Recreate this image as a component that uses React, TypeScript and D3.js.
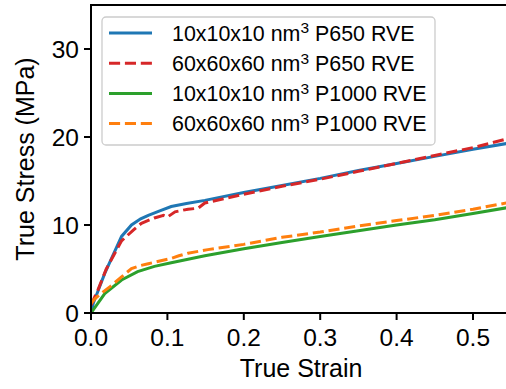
import React from 'react';
import * as d3 from 'd3';

// curves (strain, stress in MPa)
const blueStrain = [0, 0.003, 0.018, 0.04, 0.053, 0.065, 0.075, 0.09, 0.105, 0.125, 0.149, 0.2, 0.25, 0.3, 0.35, 0.4, 0.45, 0.5, 0.55];
const blueStress = [0, 1.1, 4.5, 8.7, 10.0, 10.7, 11.1, 11.6, 12.1, 12.45, 12.8, 13.7, 14.5, 15.3, 16.2, 17.0, 17.8, 18.6, 19.35];

const redStrain = [0, 0.009, 0.02, 0.04, 0.055, 0.066, 0.083, 0.095, 0.1, 0.11, 0.127, 0.14, 0.149, 0.2, 0.25, 0.3, 0.35, 0.4, 0.45, 0.5, 0.55];
const redStress = [0.9, 2.6, 5.0, 8.2, 9.4, 10.2, 10.8, 11.1, 10.9, 11.5, 11.8, 11.9, 12.5, 13.5, 14.4, 15.2, 16.1, 17.0, 17.9, 18.8, 19.9];

const greenStrain = [0, 0.005, 0.018, 0.04, 0.061, 0.083, 0.105, 0.149, 0.2, 0.25, 0.3, 0.35, 0.4, 0.45, 0.5, 0.55];
const greenStress = [0, 0.6, 2.2, 3.75, 4.7, 5.3, 5.7, 6.5, 7.3, 8.0, 8.7, 9.35, 10.0, 10.6, 11.3, 12.05];

const orangeStrain = [0, 0.005, 0.013, 0.025, 0.04, 0.053, 0.065, 0.075, 0.09, 0.105, 0.115, 0.127, 0.153, 0.2, 0.25, 0.3, 0.35, 0.4, 0.45, 0.5, 0.55];
const orangeStress = [1.1, 1.6, 2.2, 3.0, 4.1, 5.05, 5.4, 5.6, 5.9, 6.2, 6.5, 6.8, 7.2, 7.8, 8.6, 9.2, 9.9, 10.5, 11.1, 11.8, 12.6];

const legendSizes = ['10x10x10', '60x60x60', '10x10x10', '60x60x60'];
const legendGrades = ['P650', 'P650', 'P1000', 'P1000'];

const xTicks = [0, 0.1, 0.2, 0.3, 0.4, 0.5];
const yTicks = [0, 10, 20, 30];

const width = 506;
const height = 389;
const font = '"Liberation Sans", Arial, sans-serif';

export default function App() {
  const x = d3.scaleLinear().domain([0, 0.55]).range([91, 91 + 0.55 * 764]);
  const y = d3.scaleLinear().domain([0, 35]).range([313, 5]);

  const line = d3.line<[number, number]>()
    .x(d => x(d[0]))
    .y(d => y(d[1]));

  const series = [
    { strain: blueStrain, stress: blueStress, color: '#1f77b4', dash: null },
    { strain: redStrain, stress: redStress, color: '#d62728', dash: '11.1 4.8' },
    { strain: greenStrain, stress: greenStress, color: '#2ca02c', dash: null },
    { strain: orangeStrain, stress: orangeStress, color: '#ff7f0e', dash: '11.1 4.8' },
  ];

  const [x0, x1] = x.range();
  const [y0, y1] = y.range();

  return (
    <svg width={width} height={height} style={{ position: 'absolute', left: 0, top: 0 }} fontFamily={font}>
      <rect width={width} height={height} fill="#fff" />
      <defs>
        <clipPath id="plot">
          <rect x={x0} y={y1} width={x1 - x0} height={y0 - y1} />
        </clipPath>
      </defs>

      <g clipPath="url(#plot)">
        {series.map((s, i) => (
          <path
            key={i}
            d={line(s.strain.map((v, j) => [v, s.stress[j]] as [number, number])) || ''}
            fill="none"
            stroke={s.color}
            strokeWidth={3}
            strokeDasharray={s.dash || undefined}
          />
        ))}
      </g>

      {/* spines */}
      <line x1={x0} x2={x0} y1={y0} y2={y1} stroke="#000" strokeWidth={2} strokeLinecap="square" />
      <line x1={x0} x2={x1} y1={y0} y2={y0} stroke="#000" strokeWidth={2} strokeLinecap="square" />
      <line x1={x0} x2={x1} y1={y1} y2={y1} stroke="#000" strokeWidth={2} strokeLinecap="square" />
      <line x1={x1} x2={x1} y1={y0} y2={y1} stroke="#000" strokeWidth={2} />

      {/* x axis */}
      {xTicks.map(t => (
        <g key={t} transform={`translate(${x(t)},${y0})`}>
          <line y2={7} stroke="#000" strokeWidth={2} />
          <text y={33} textAnchor="middle" fontSize={24.5}>{t.toFixed(1)}</text>
        </g>
      ))}
      <text x={(x0 + x1) / 2} y={377} textAnchor="middle" fontSize={25}>True Strain</text>

      {/* y axis */}
      {yTicks.map(t => (
        <g key={t} transform={`translate(${x0},${y(t)})`}>
          <line x2={-7} stroke="#000" strokeWidth={2} />
          <text x={-12} y={8.8} textAnchor="end" fontSize={24.5}>{t}</text>
        </g>
      ))}
      <text transform={`translate(34,${(y0 + y1) / 2}) rotate(-90)`} textAnchor="middle" fontSize={25}>True Stress (MPa)</text>

      {/* legend */}
      <rect x={102} y={17} width={333} height={128} rx={4} fill="#fff" fillOpacity={0.8} stroke="#cccccc" strokeWidth={1.3} />
      {series.map((s, i) => {
        const ry = 33 + i * 30.2;
        return (
          <g key={i}>
            <line x1={109} x2={152} y1={ry} y2={ry} stroke={s.color} strokeWidth={3} strokeDasharray={s.dash || undefined} />
            <text x={172} y={ry + 7.7} fontSize={21.4} style={{ whiteSpace: 'pre' }}>
              <tspan>{legendSizes[i] + ' nm'}</tspan>
              <tspan dy={-7.4} fontSize={15.5}>3</tspan>
              <tspan dy={7.4}>{' ' + legendGrades[i] + ' RVE'}</tspan>
            </text>
          </g>
        );
      })}
    </svg>
  );
}
